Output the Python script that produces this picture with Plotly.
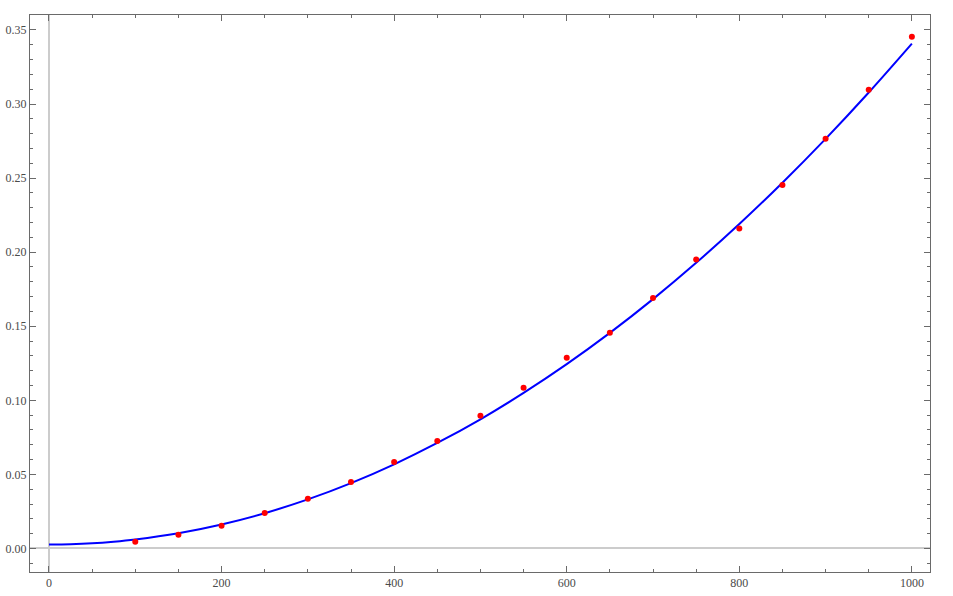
import plotly.graph_objects as go

# measured points
x_pts = [100, 150, 200, 250, 300, 350, 400, 450, 500, 550,
         600, 650, 700, 750, 800, 850, 900, 950, 1000]
y_pts = [0.0045, 0.0093, 0.0153, 0.0240, 0.0336, 0.0449, 0.0584, 0.0725, 0.0895, 0.1084,
         0.1287, 0.1456, 0.1690, 0.1950, 0.2160, 0.2454, 0.2765, 0.3096, 0.3454]

# fitted curve
x_fit = [0, 25, 50, 75, 100, 150, 200, 250, 300, 350, 400, 450, 500,
         550, 600, 650, 700, 750, 800, 850, 900, 950, 1000]
y_fit = [0.0027, 0.0029, 0.0035, 0.0046, 0.0061, 0.0103, 0.0162, 0.0238, 0.0331, 0.0441, 0.0568, 0.0712, 0.0872,
         0.1050, 0.1244, 0.1455, 0.1683, 0.1928, 0.2190, 0.2469, 0.2765, 0.3078, 0.3408]

frame = '#6a6a6a'
font = dict(family='Liberation Serif', size=12, color='#4a4a4a')

fig = go.Figure()
fig.add_trace(go.Scatter(x=x_fit, y=y_fit, mode='lines',
                         line=dict(color='#0000ff', width=2, shape='spline'),
                         showlegend=False))
fig.add_trace(go.Scatter(x=x_pts, y=y_pts, mode='markers',
                         marker=dict(color='#ff0000', size=6),
                         showlegend=False))

axis_common = dict(
    showline=True, linecolor=frame, linewidth=1, mirror='allticks',
    ticks='inside', tickcolor=frame, ticklen=6, tickwidth=1,
    showgrid=False, zeroline=True, zerolinecolor='#cccccc', zerolinewidth=1.5,
    tickfont=font, automargin=False,
)

fig.update_xaxes(range=[-22, 1021], tick0=0, dtick=200,
                 minor=dict(dtick=50, ticks='inside', ticklen=3, tickcolor=frame, showgrid=False),
                 **axis_common)
fig.update_yaxes(range=[-0.0159, 0.3601], tick0=0, dtick=0.05, tickformat='.2f',
                 minor=dict(dtick=0.01, ticks='inside', ticklen=3, tickcolor=frame, showgrid=False),
                 **axis_common)

fig.update_layout(
    width=953, height=596,
    margin=dict(l=30, r=23, t=15, b=24),
    plot_bgcolor='white', paper_bgcolor='white',
    font=font,
)

# drop the default page margin so the figure sits at the window's corner
fig.write_html("out.html", config={'displayModeBar': False},
               post_script="document.body.style.margin='0';document.body.style.overflow='hidden';")
